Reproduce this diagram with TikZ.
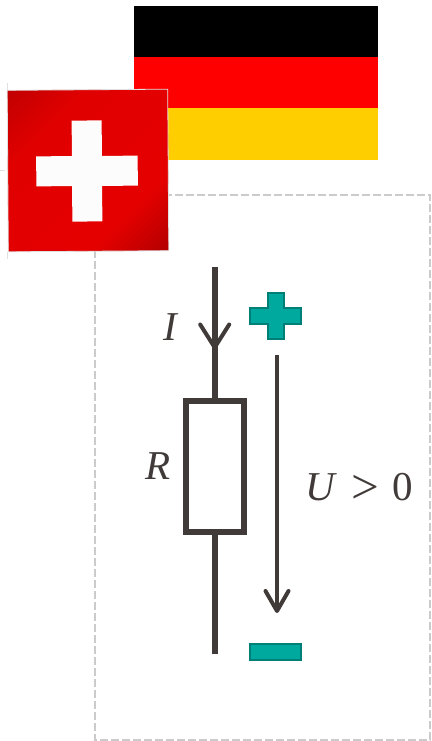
\documentclass[tikz,border=0pt]{standalone}
\usepackage{fontspec}
\setmainfont{Liberation Serif}
\usetikzlibrary{positioning,arrows.meta}

\definecolor{wire}{HTML}{403A38}
\definecolor{signfill}{HTML}{00A99D}
\definecolor{signline}{HTML}{007F78}
\definecolor{framegray}{HTML}{CBCBCB}
\definecolor{gold}{HTML}{FFCE00}
\pgfdeclareverticalshading{swissshade}{100bp}{
    color(0bp)=(red!68!black); color(15bp)=(red!70!black); color(32bp)=(red!90!black);
    color(50bp)=(red!89!black); color(68bp)=(red!88!black); color(85bp)=(red!76!black); color(100bp)=(red!74!black)}

\tikzset{
    stripe/.style={minimum width=243.5pt, minimum height=51pt, inner sep=0pt, outer sep=0pt},
    crossbar/.style={fill=white!99!black, inner sep=0pt, outer sep=0pt, rotate=0.4},
    wireline/.style={draw=wire, line width=6pt},
    sign/.style={fill=signfill, draw=signline, line width=1.8pt},
    quantity/.style={text=wire, font=\fontsize{41}{41}\selectfont, inner sep=0pt}
}

\begin{document}
\begin{tikzpicture}[x=1pt, y=-1pt]
\useasboundingbox (0,0) rectangle (431,741);

\node[stripe, fill=black] (black) at (255.75,32) {};
\node[stripe, fill=red, below=0mm of black] (redstripe) {};
\node[stripe, fill=gold, below=0mm of redstripe] (goldstripe) {};

\draw[framegray, line width=2.2pt, dash pattern=on 8pt off 3pt] (94.8,195) rectangle (430,740);

\draw[black!12, line width=0.8pt] (7,83) -- (7,90) (0,170.5) -- (5,170.5) (7,252) -- (7,259);
\node[minimum width=160.5pt, minimum height=161.5pt, inner sep=0pt, rotate=0.4,
    shading=swissshade, shading angle=45, draw=black!12, line width=0.8pt] (swiss) at (88,170.5) {};
\node[crossbar, minimum width=30pt, minimum height=101pt] (crossv) at (87,171) {};
\node[crossbar, minimum width=101.5pt, minimum height=30pt] (crossh) at (87,171) {};

\node[draw=wire, line width=6pt, minimum width=58pt, minimum height=131pt, inner sep=0pt, outer sep=0pt] (res) at (214.7,466.5) {};
\coordinate (wiretop) at (214.7,267);
\coordinate (wirebot) at (214.7,654);
\coordinate (curfrom) at (214.7,300);
\coordinate (curtip) at (214.7,349.5);
\draw[wireline] (wiretop) -- (res.north);
\draw[wireline] (res.south) -- (wirebot);
\draw[draw=wire, line width=3.5pt, -{Straight Barb[length=23pt, width=29pt, line width=4pt, round]}] (curfrom) -- (curtip);

\coordinate (utop) at (277,355);
\coordinate (ubot) at (277,613);
\draw[draw=wire, line width=4pt, -{Straight Barb[length=20pt, width=23pt, line width=4pt, round]}] (utop) -- (ubot);

\draw[sign] (250.2,307.8) -| (267.9,292.6) -| (284.2,307.8) -| (301.2,323.6) -| (284.2,339.2) -| (267.9,323.6) -| (250.2,307.8) -- cycle;
\draw[sign] (250.2,644.2) rectangle (301.2,659.8);

\node[quantity] (cur) at (171.5,327) {\textit{I}};
\node[quantity] (rval) at (158,466) {\textit{R}};
\node[quantity, anchor=west] (volt) at (305,488) {\textit{U}\hspace{14pt}\raisebox{-3pt}{\scalebox{1.2}{>}}\hspace{14pt}0};
\end{tikzpicture}
\end{document}
